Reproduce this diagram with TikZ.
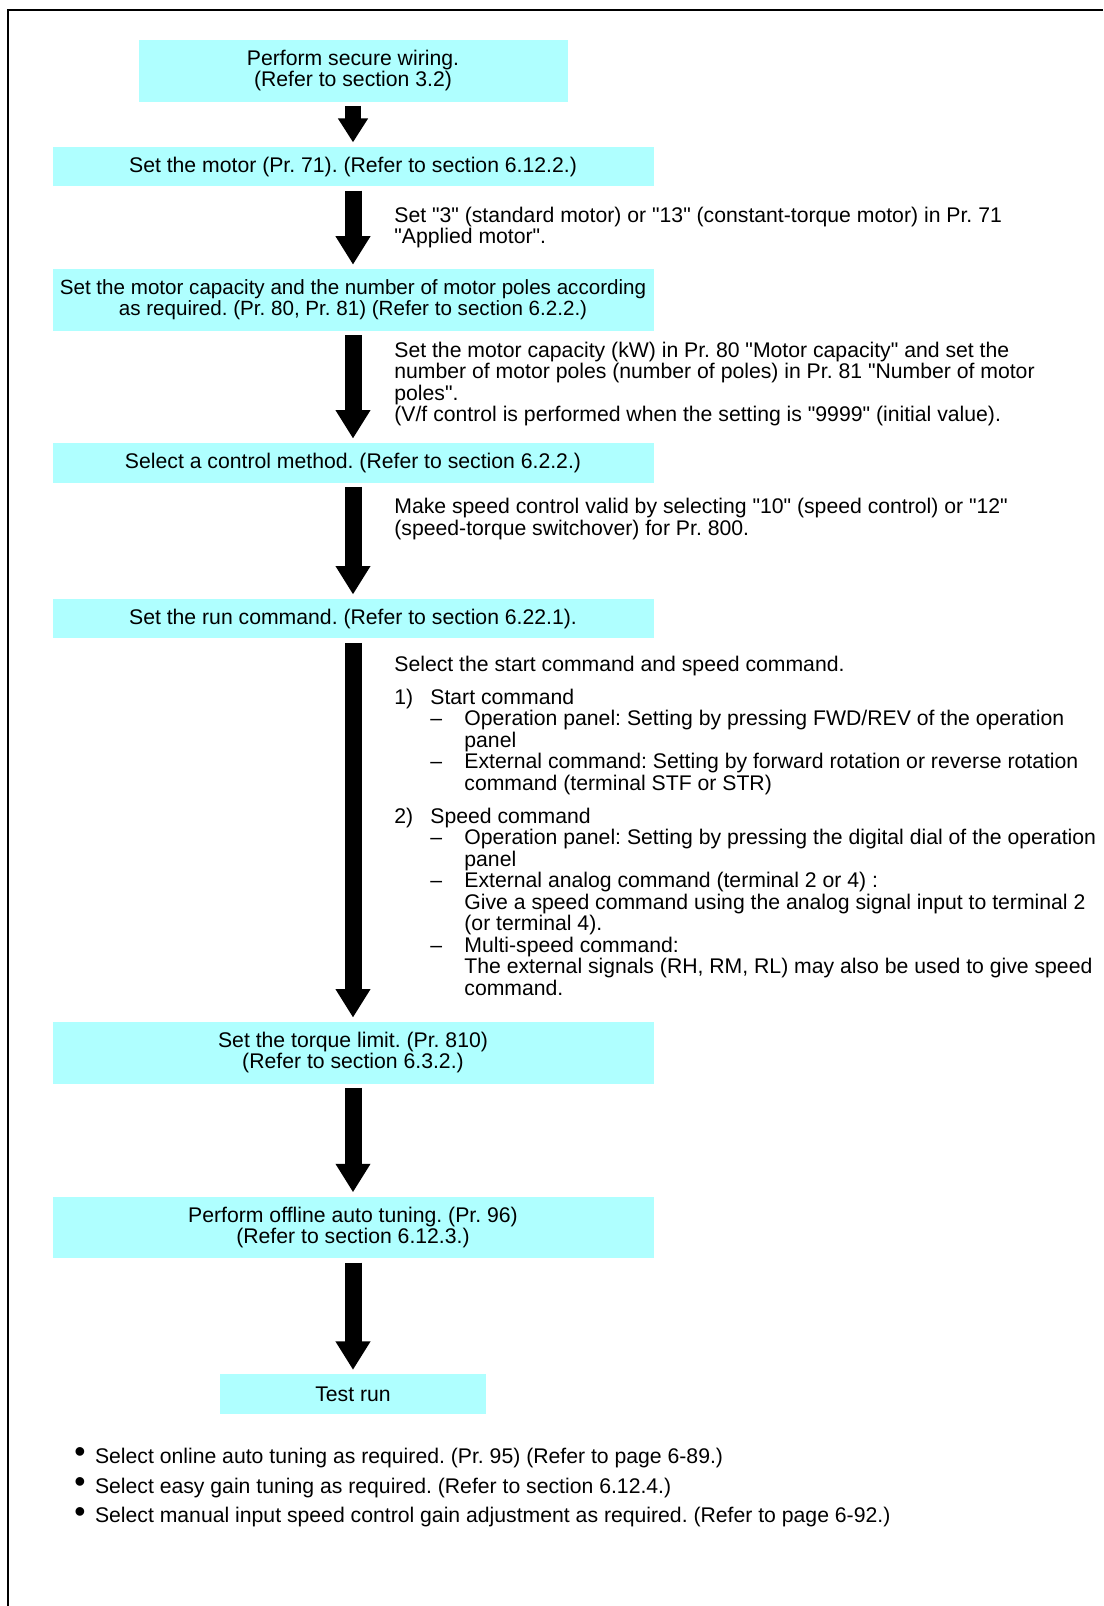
\documentclass[tikz,border=0pt]{standalone}
\usepackage{fontspec}
\setmainfont{Liberation Sans}[Ligatures=TeXOff]
\usepackage{tikz}
\usetikzlibrary{positioning,arrows.meta}
\definecolor{flowcyan}{RGB}{175,255,255}
\newcommand{\flowfont}{\fontsize{10.6}{10.75}\selectfont\frenchspacing}
\newcommand{\tipdot}{\makebox[10.3pt][l]{{\fontsize{16}{16}\selectfont\raisebox{0.3pt}{•}}}}

\begin{document}
\begin{tikzpicture}[
    x=0.5pt, y=-0.5pt,
    stage/.style={rectangle, fill=flowcyan, inner sep=0pt, align=center, minimum width=300.5pt, minimum height=19.75pt, font=\flowfont},
    stagetwo/.style={stage, minimum height=30.75pt},
    flow/.style={-{Triangle[width=16.5pt, length=14.25pt]}, line width=8.5pt, shorten <=2pt, shorten >=2pt},
    note/.style={anchor=north west, inner sep=0pt, align=left, font=\flowfont}
  ]
    \useasboundingbox (0,0) rectangle (1103,1606);
    \draw[line width=1.3pt] (8,1606) -- (8,10) -- (1103,10);

    \node[stagetwo, minimum width=214.5pt] (wiring) at (353,70.75) {Perform secure wiring.\\(Refer to section 3.2)};
    \node[stage, below=22.25pt of wiring] (motor) {Set the motor (Pr. 71). (Refer to section 6.12.2.)};
    \node[stagetwo, below=41pt of motor, font=\fontsize{10.3}{10.75}\selectfont\frenchspacing] (capacity) {Set the motor capacity and the number of motor poles according\\as required. (Pr. 80, Pr. 81) (Refer to section 6.2.2.)};
    \node[stage, below=55.8pt of capacity] (control) {Select a control method. (Refer to section 6.2.2.)};
    \node[stage, below=57.8pt of control] (runcmd) {Set the run command. (Refer to section 6.22.1).};
    \node[stagetwo, below=191.4pt of runcmd] (torque) {Set the torque limit. (Pr. 810)\\(Refer to section 6.3.2.)};
    \node[stagetwo, below=56.2pt of torque] (tuning) {Perform offline auto tuning. (Pr. 96)\\(Refer to section 6.12.3.)};
    \node[stage, minimum width=133pt, below=57.65pt of tuning] (testrun) {Test run};

    \node[note] (motornote) at (394,206.3) {Set "3" (standard motor) or "13" (constant-torque motor) in Pr. 71\\"Applied motor".};
    \node[note] (capacitynote) at (394,341.3) {Set the motor capacity (kW) in Pr. 80 "Motor capacity" and set the\\number of motor poles (number of poles) in Pr. 81 "Number of motor\\poles".\\(V/f control is performed when the setting is "9999" (initial value).};
    \node[note] (controlnote) at (394,498) {Make speed control valid by selecting "10" (speed control) or "12"\\(speed-torque switchover) for Pr. 800.};
    \node[note] (runnote) at (394,656) {Select the start command and speed command.\\[5.6pt]
      \makebox[18pt][l]{1)}Start command\\
      \hspace*{18pt}\makebox[17pt][l]{–}Operation panel: Setting by pressing FWD/REV of the operation\\
      \hspace*{35pt}panel\\
      \hspace*{18pt}\makebox[17pt][l]{–}External command: Setting by forward rotation or reverse rotation\\
      \hspace*{35pt}command (terminal STF or STR)\\[5.6pt]
      \makebox[18pt][l]{2)}Speed command\\
      \hspace*{18pt}\makebox[17pt][l]{–}Operation panel: Setting by pressing the digital dial of the operation\\
      \hspace*{35pt}panel\\
      \hspace*{18pt}\makebox[17pt][l]{–}External analog command (terminal 2 or 4) :\\
      \hspace*{35pt}Give a speed command using the analog signal input to terminal 2\\
      \hspace*{35pt}(or terminal 4).\\
      \hspace*{18pt}\makebox[17pt][l]{–}Multi-speed command:\\
      \hspace*{35pt}The external signals (RH, RM, RL) may also be used to give speed\\
      \hspace*{35pt}command.};
    \node[note] (tips) at (74,1447.6) {\tipdot Select online auto tuning as required. (Pr. 95) (Refer to page 6-89.)\\[4.1pt]
      \tipdot Select easy gain tuning as required. (Refer to section 6.12.4.)\\[4.1pt]
      \tipdot Select manual input speed control gain adjustment as required. (Refer to page 6-92.)};

    \draw[flow, -{Triangle[width=14.25pt, length=12pt]}, line width=7.75pt] (wiring) -- (motor);
    \draw[flow] (motor) -- (capacity);
    \draw[flow] (capacity) -- (control);
    \draw[flow] (control) -- (runcmd);
    \draw[flow] (runcmd) -- (torque);
    \draw[flow] (torque) -- (tuning);
    \draw[flow] (tuning) -- (testrun);
  \end{tikzpicture}
\end{document}
